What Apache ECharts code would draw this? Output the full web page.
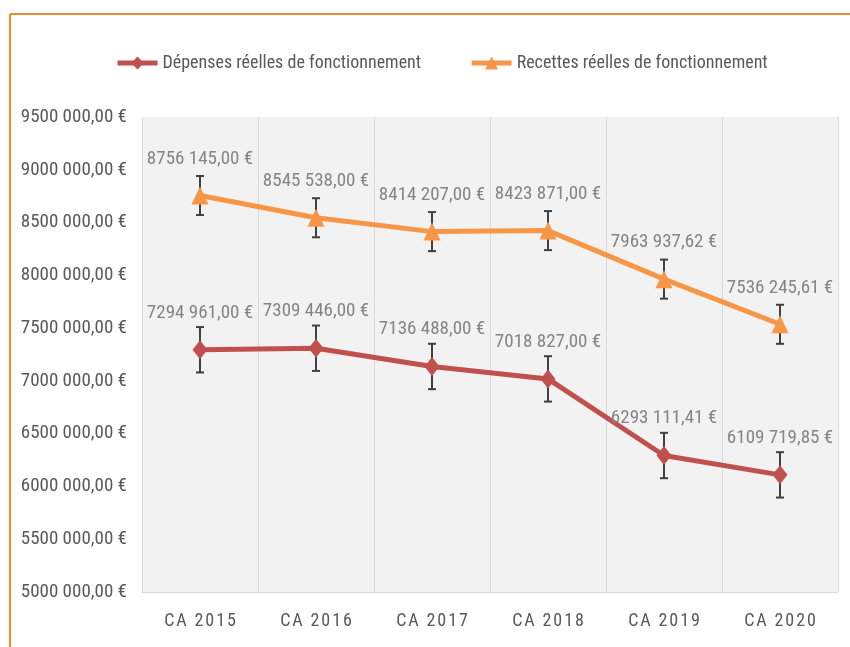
<!DOCTYPE html>
<html>
<head>
<meta charset="utf-8">
<script src="https://cdn.jsdelivr.net/npm/echarts@6/dist/echarts.min.js"></script>
<style>
  html, body { margin: 0; padding: 0; background: #fff; }
  #chart { width: 850px; height: 647px; }
</style>
</head>
<body>
<div id="chart"></div>
<script>
const categories = ['CA 2015', 'CA 2016', 'CA 2017', 'CA 2018', 'CA 2019', 'CA 2020'];
const depenses = [7294961.00, 7309446.00, 7136488.00, 7018827.00, 6293111.41, 6109719.85];
const recettes = [8756145.00, 8545538.00, 8414207.00, 8423871.00, 7963937.62, 7536245.61];
// half-height of the error bars
const depensesErr = [215000, 215000, 215000, 215000, 215000, 215000];
const recettesErr = [185000, 185000, 185000, 185000, 185000, 185000];

const font = "'Roboto Condensed', 'Liberation Sans Narrow', sans-serif";

function euro(v) {
  const cents = Math.round(v * 100);
  const whole = Math.floor(cents / 100);
  const dec = String(cents % 100).padStart(2, '0');
  const head = Math.floor(whole / 1000);
  const tail = String(whole % 1000).padStart(3, '0');
  return (head > 0 ? head + ' ' + tail : String(whole % 1000)) + ',' + dec + ' €';
}

function errData(values, errs) {
  return values.map((v, i) => [i, v - errs[i], v + errs[i]]);
}

function renderErr(params, api) {
  const i = api.value(0);
  const lo = api.coord([i, api.value(1)]);
  const hi = api.coord([i, api.value(2)]);
  const w = 4;
  const st = { stroke: '#404040', lineWidth: 2 };
  return {
    type: 'group',
    children: [
      { type: 'line', shape: { x1: hi[0], y1: hi[1], x2: lo[0], y2: lo[1] }, style: st },
      { type: 'line', shape: { x1: hi[0] - w, y1: hi[1], x2: hi[0] + w, y2: hi[1] }, style: st },
      { type: 'line', shape: { x1: lo[0] - w, y1: lo[1], x2: lo[0] + w, y2: lo[1] }, style: st }
    ]
  };
}

const myChart = echarts.init(document.getElementById('chart'));
const option = {
  animation: false,
  textStyle: { fontFamily: font },
  graphic: [
    { type: 'line', shape: { x1: 10, y1: 14, x2: 850, y2: 14 }, style: { stroke: '#e58e2e', lineWidth: 2 } },
    { type: 'line', shape: { x1: 10, y1: 14, x2: 10, y2: 647 }, style: { stroke: '#e58e2e', lineWidth: 2 } }
  ],
  legend: {
    top: 49,
    left: 110,
    itemWidth: 40,
    itemHeight: 16,
    itemGap: 48,
    lineStyle: { width: 5 },
    textStyle: { color: '#595959', fontSize: 18, fontFamily: font },
    data: ['Dépenses réelles de fonctionnement', 'Recettes réelles de fonctionnement']
  },
  grid: { left: 142, right: 12, top: 117, bottom: 55 },
  xAxis: {
    type: 'category',
    data: categories,
    axisLine: { lineStyle: { color: '#d9d9d9', width: 1 } },
    axisTick: { show: false },
    splitLine: { show: true, lineStyle: { color: '#d9d9d9', width: 1 } },
    splitArea: { show: true, areaStyle: { color: ['#f2f2f2', '#f2f2f2'] } },
    axisLabel: {
      color: '#595959', fontSize: 18, fontFamily: font, margin: 20,
      formatter: v => v.split('').join('\u200a')
    }
  },
  yAxis: {
    type: 'value',
    min: 5000000,
    max: 9500000,
    interval: 500000,
    splitLine: { show: false },
    axisLine: { show: false },
    axisTick: { show: false },
    axisLabel: { color: '#595959', fontSize: 19, fontFamily: font, margin: 15, formatter: v => euro(v) }
  },
  series: [
    {
      type: 'custom',
      renderItem: renderErr,
      data: errData(depenses, depensesErr),
      encode: { x: 0, y: [1, 2] },
      z: 1,
      silent: true
    },
    {
      type: 'custom',
      renderItem: renderErr,
      data: errData(recettes, recettesErr),
      encode: { x: 0, y: [1, 2] },
      z: 1,
      silent: true
    },
    {
      name: 'Dépenses réelles de fonctionnement',
      type: 'line',
      data: depenses,
      z: 3,
      symbol: 'diamond',
      symbolSize: [15, 19],
      color: '#c0504d',
      lineStyle: { width: 5, color: '#c0504d' },
      itemStyle: { color: '#c0504d' },
      label: {
        show: true, position: 'top', distance: 18,
        color: '#858585', fontSize: 19, fontFamily: font,
        formatter: p => euro(p.value)
      }
    },
    {
      name: 'Recettes réelles de fonctionnement',
      type: 'line',
      data: recettes,
      z: 3,
      symbol: 'triangle',
      symbolSize: [17, 18],
      color: '#f79646',
      lineStyle: { width: 5, color: '#f79646' },
      itemStyle: { color: '#f79646' },
      label: {
        show: true, position: 'top', distance: 18,
        color: '#858585', fontSize: 19, fontFamily: font,
        formatter: p => euro(p.value)
      }
    }
  ]
};
option && myChart.setOption(option);
</script>
</body>
</html>
